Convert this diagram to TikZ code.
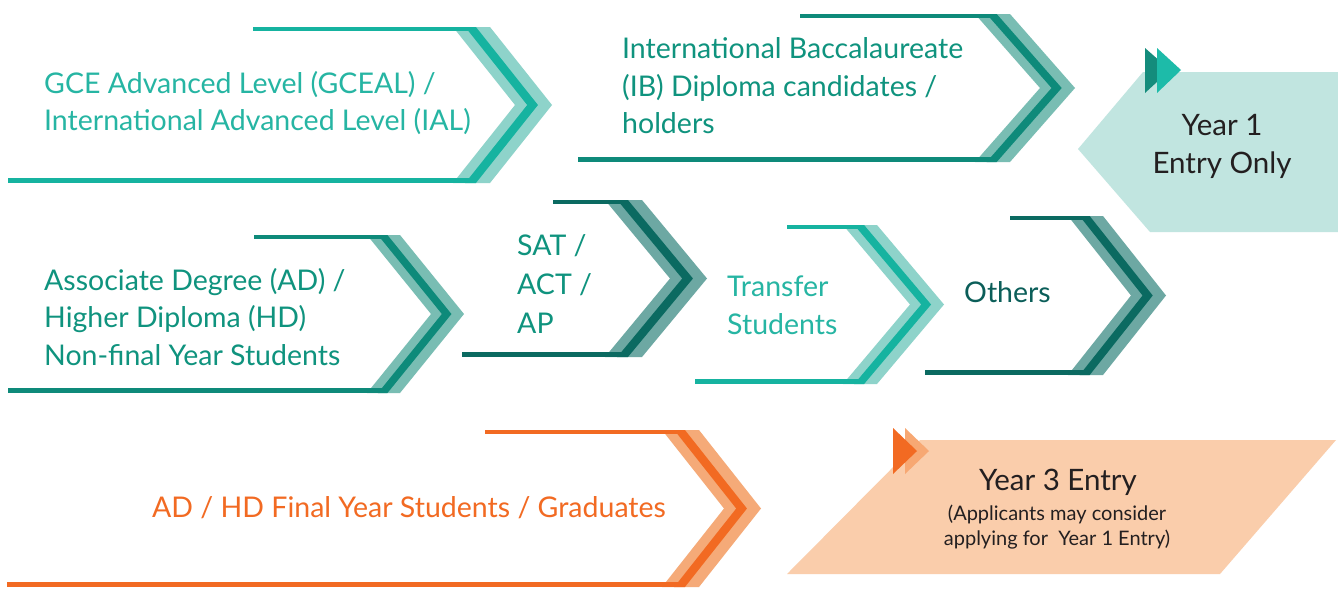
\documentclass[tikz,border=0pt]{standalone}
\usepackage{fontspec}
\setmainfont{Lato}
\usetikzlibrary{calc}
\definecolor{gcedark}{HTML}{16B3A0}
\definecolor{gcelight}{HTML}{8ED3CA}
\definecolor{gcetext}{HTML}{26B5A3}
\definecolor{ibdark}{HTML}{0E8A7A}
\definecolor{iblight}{HTML}{79BDB3}
\definecolor{ibtext}{HTML}{0F937E}
\definecolor{satdark}{HTML}{0B6A61}
\definecolor{satlight}{HTML}{6DA8A3}
\definecolor{othtext}{HTML}{0B5E59}
\definecolor{ordark}{HTML}{F26A22}
\definecolor{orlight}{HTML}{F5AA78}
\definecolor{yonebox}{HTML}{C1E5E0}
\definecolor{yonedark}{HTML}{148C7C}
\definecolor{yonelight}{HTML}{1DBBA9}
\definecolor{ythreebox}{HTML}{FACDAB}
\definecolor{ythreelight}{HTML}{F7A873}
\definecolor{darktext}{HTML}{231F20}
% #1 xt, #2 yt, #3 xb, #4 yb, #5 xa, #6 w, #7 d, #8 dark, #9 light
\newcommand\chevshape[9]{%
  \pgfmathsetmacro\cym{(#2+#4)/2}%
  \pgfmathsetmacro\cwa{#5+#6}%
  \pgfmathsetmacro\coa{#5+0.33*#6}%
  \pgfmathsetmacro\cob{#5+0.62*#6}%
  \fill[#9] (#5,#2) -- (\cwa,#2) -- ({\cwa+#7},\cym) -- (\cwa,#4) -- (#5,#4) -- ({#5+#7},\cym) -- cycle;
  \fill[#8] (\coa,#2) -- (\cob,#2) -- ({\cob+#7},\cym) -- (\cob,#4) -- (\coa,#4) -- ({\coa+#7},\cym) -- cycle;
  \fill[#8] (#1,#2) rectangle (\cob,{#2+4});
  \fill[#8] (#3,{#4-5}) rectangle (\cob,#4);
}
\tikzset{
  lbl/.style={anchor=west, align=left, inner sep=0pt, font=\fontsize{28.5}{37.5}\selectfont},
  boxlbl/.style={align=center, inner sep=0pt, text=darktext},
}
\begin{document}
\begin{tikzpicture}[x=1pt,y=-1pt]
\useasboundingbox (0,0) rectangle (1338,590);
\fill[white] (0,0) rectangle (1338,590);
% boxes
\fill[yonebox] (1078,149) -- (1143,72) -- (1338,72) -- (1338,232) -- (1150,232) -- cycle;
\fill[yonedark] (1145,48) -- (1170,70) -- (1145,93) -- cycle;
\fill[yonelight] (1157,48) -- (1181,70) -- (1157,93) -- cycle;
\fill[ythreebox] (787,574) -- (920,440) -- (1336,440) -- (1220,574) -- cycle;
\fill[ythreelight] (905,428) -- (929,451) -- (905,474) -- cycle;
\fill[ordark] (893,428) -- (917,451) -- (893,474) -- cycle;
% chevrons
\chevshape{253}{27}{8}{183}{453}{37}{62}{gcedark}{gcelight}
\chevshape{800}{14}{578}{162}{975}{35}{65}{ibdark}{iblight}
\chevshape{254}{235}{8}{393}{367}{33}{64}{ibdark}{iblight}
\chevshape{553}{200}{462}{357}{605}{37}{65}{satdark}{satlight}
\chevshape{787}{225}{695}{384}{843}{34}{67}{gcedark}{gcelight}
\chevshape{1010}{216}{925}{375}{1068}{35}{63}{satdark}{satlight}
\chevshape{485}{430}{7}{587}{662}{37}{62}{ordark}{orlight}
% labels
\node[lbl, text=gcetext] (gce) at (44,103) {GCE Advanced Level (GCEAL) /\\International Advanced Level (IAL)};
\node[lbl, text=ibtext] (ib) at (622,86) {International Baccalaureate\\(IB) Diploma candidates /\\holders};
\node[boxlbl, font=\fontsize{29.5}{38}\selectfont] (yone) at (1222,146) {Year 1\\Entry Only};
\node[lbl, text=ibtext] (adhd) at (44,317) {Associate Degree (AD) /\\Higher Diploma (HD)\\Non-final Year Students};
\node[lbl, text=ibtext, font=\fontsize{28.5}{39}\selectfont] (sat) at (517,284) {SAT /\\ACT /\\AP};
\node[lbl, text=gcetext] (tr) at (727,305) {Transfer\\Students};
\node[lbl, text=othtext] (oth) at (964,292) {Others};
\node[lbl, text=ordark] (fin) at (152,508) {AD / HD Final Year Students / Graduates};
\node[boxlbl, font=\fontsize{29.5}{33}\selectfont] (ythree) at (1058,482) {Year 3 Entry};
\node[boxlbl, font=\fontsize{20}{25}\selectfont] (ythreesub) at (1057,527) {(Applicants may consider\\applying for\ \ Year 1 Entry)};
\end{tikzpicture}
\end{document}
